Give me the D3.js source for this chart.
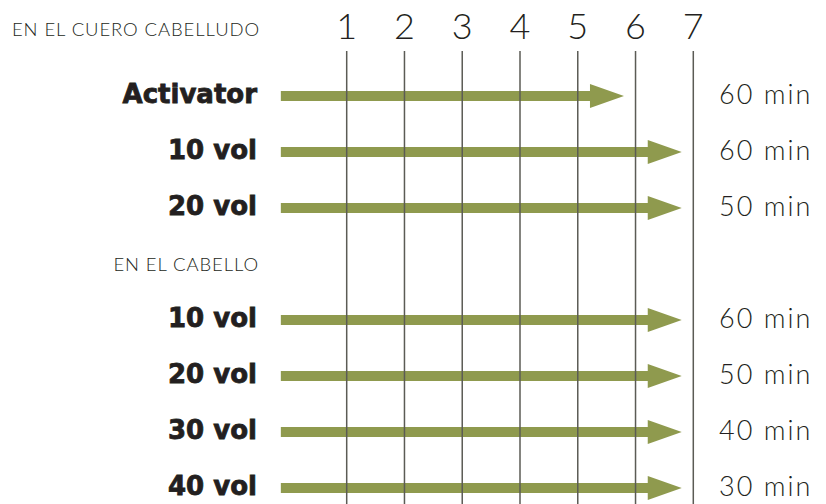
<!DOCTYPE html>
<html>
<head>
<meta charset="utf-8">
<script src="https://cdn.jsdelivr.net/npm/d3@7"></script>
<style>
  body { margin: 0; background: #fff; }
  svg { display: block; }
  .row-label { font-family: "DejaVu Sans", sans-serif; font-weight: bold; fill: #231f20; stroke: #231f20; stroke-width: 0.8; }
  .light { font-family: Lato, "Open Sans", sans-serif; font-weight: 300; fill: #231f20; }
</style>
</head>
<body>
<svg id="chart"></svg>
<script>
const width = 826;
const height = 504;

// data
const steps = [1, 2, 3, 4, 5, 6, 7];
const rows = ["Activator", "10 vol", "20 vol", "EN EL CABELLO", "10 vol", "20 vol", "30 vol", "40 vol"];
const isHeader = [false, false, false, true, false, false, false, false];
const arrowStart = [-0.14, -0.14, -0.14, null, -0.14, -0.14, -0.14, -0.14];
const arrowEnd = [5.8, 6.8, 6.8, null, 6.8, 6.8, 6.8, 6.8];
const times = ["60 min", "60 min", "50 min", "", "60 min", "50 min", "40 min", "30 min"];
const topHeader = "EN EL CUERO CABELLUDO";

const svg = d3.select("#chart")
    .attr("width", width)
    .attr("height", height);

const x = d3.scaleLinear().domain([1, 7]).range([346.7, 693.3]);
const y = d3.scalePoint().domain(d3.range(rows.length)).range([96, 488]);

const green = "#8f9a4e";
const shaft = 10;
const headLen = 34;
const headH = 24;

// arrows
const arrowRows = d3.range(rows.length).filter(i => !isHeader[i]);
svg.selectAll(".arrow")
    .data(arrowRows)
    .enter()
    .append("path")
    .attr("class", "arrow")
    .attr("fill", green)
    .attr("d", i => {
        const x0 = x(arrowStart[i]), x1 = x(arrowEnd[i]), cy = y(i);
        const xh = x1 - headLen;
        return `M${x0},${cy - shaft / 2}H${xh}V${cy - headH / 2}L${x1},${cy}L${xh},${cy + headH / 2}V${cy + shaft / 2}H${x0}Z`;
    });

// vertical step lines
svg.selectAll(".step-line")
    .data(steps)
    .enter()
    .append("line")
    .attr("class", "step-line")
    .attr("x1", d => x(d))
    .attr("x2", d => x(d))
    .attr("y1", 51)
    .attr("y2", height)
    .attr("stroke", "#5b5b55")
    .attr("stroke-width", 1.5);

// step numbers
svg.selectAll(".step-num")
    .data(steps)
    .enter()
    .append("text")
    .attr("class", "light")
    .attr("x", d => x(d))
    .attr("y", 39)
    .attr("text-anchor", "middle")
    .attr("font-size", 36)
    .text(d => d);

// top header
svg.append("text")
    .attr("class", "light")
    .attr("x", 260)
    .attr("y", 36)
    .attr("text-anchor", "end")
    .attr("font-size", 18.5)
    .attr("letter-spacing", 0.9)
    .text(topHeader);

// row labels
svg.selectAll(".row-label")
    .data(d3.range(rows.length))
    .enter()
    .append("text")
    .attr("class", i => isHeader[i] ? "light" : "row-label")
    .attr("x", i => isHeader[i] ? 259 : 257)
    .attr("y", i => y(i) + 7)
    .attr("text-anchor", "end")
    .attr("font-size", i => isHeader[i] ? 18.5 : 26)
    .attr("letter-spacing", i => isHeader[i] ? 0.9 : 0)
    .text(i => rows[i]);

// times
svg.selectAll(".time")
    .data(arrowRows)
    .enter()
    .append("text")
    .attr("class", "light")
    .attr("x", 719)
    .attr("y", i => y(i) + 8)
    .attr("font-size", 27)
    .attr("letter-spacing", 2)
    .text(i => times[i]);
</script>
</body>
</html>
